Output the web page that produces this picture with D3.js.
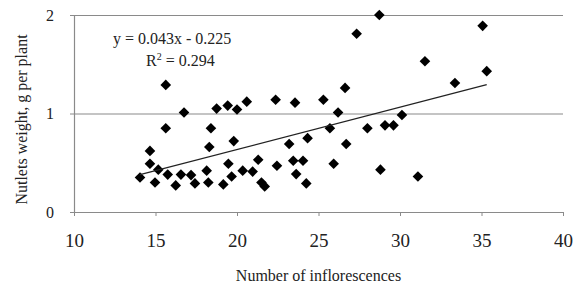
<!DOCTYPE html>
<html>
<head>
<meta charset="utf-8">
<script src="https://cdn.jsdelivr.net/npm/d3@7"></script>
<style>
  body { margin: 0; background: #fff; }
  text { font-family: "Liberation Serif", "Times New Roman", serif; fill: #222; }
</style>
</head>
<body>
<div id="chart"></div>
<script>
// inflorescence count vs nutlets weight
let inflorescences = [14.05, 14.66, 14.66, 14.97, 15.17, 15.63, 15.63, 15.75, 16.24, 16.56,
  16.75, 17.18, 17.42, 18.14, 18.24, 18.3, 18.4, 18.75, 19.16, 19.43,
  19.47, 19.67, 19.8, 20.0, 20.35, 20.6, 20.96, 21.3, 21.5, 21.7,
  22.37, 22.45, 23.2, 23.45, 23.56, 23.63, 24.05, 24.25, 24.33, 25.3,
  25.7, 25.93, 26.2, 26.63, 26.7, 27.34, 28.0, 28.73, 28.8, 29.08,
  29.6, 30.12, 31.1, 31.53, 33.37, 35.07, 35.32];
let nutletsWeight = [0.35, 0.62, 0.49, 0.30, 0.43, 1.29, 0.85, 0.38, 0.27, 0.38,
  1.01, 0.375, 0.29, 0.42, 0.30, 0.66, 0.85, 1.05, 0.28, 1.08,
  0.49, 0.36, 0.72, 1.04, 0.42, 1.12, 0.41, 0.53, 0.30, 0.26,
  1.14, 0.47, 0.69, 0.52, 1.11, 0.385, 0.52, 0.29, 0.75, 1.14,
  0.85, 0.49, 1.01, 1.26, 0.69, 1.81, 0.85, 2.0, 0.43, 0.88,
  0.88, 0.985, 0.36, 1.53, 1.31, 1.89, 1.43];
let xTicks = [10, 15, 20, 25, 30, 35, 40];
let yTicks = [0, 1, 2];
let slope = 0.043, intercept = -0.225, r2 = 0.294;

let W = 576, H = 291;
let margin = {left: 74, right: 13, top: 15, bottom: 79};

let svg = d3.select("#chart").append("svg")
  .attr("width", W).attr("height", H);

let x = d3.scaleLinear().domain([10, 40]).range([margin.left, W - margin.right]);
let y = d3.scaleLinear().domain([0, 2]).range([H - margin.bottom, margin.top]);

// gridlines
svg.append("g")
  .attr("transform", "translate(" + margin.left + ",0)")
  .call(d3.axisLeft(y).tickValues(yTicks.filter(d => d > 0))
    .tickSize(-(W - margin.right - margin.left)).tickFormat(""))
  .call(g => g.select(".domain").remove())
  .call(g => g.selectAll("line").attr("stroke", "#8a8a8a").attr("stroke-width", 1.2));

// y axis
svg.append("g")
  .attr("transform", "translate(" + margin.left + ",0)")
  .call(d3.axisLeft(y).tickValues(yTicks).tickSize(4).tickSizeOuter(0).tickPadding(16).tickFormat(d3.format("d")))
  .call(g => g.select(".domain").attr("stroke", "#8a8a8a").attr("stroke-width", 1.2))
  .call(g => g.selectAll("line").attr("stroke", "#8a8a8a"))
  .call(g => g.selectAll("text").style("font-size", "16px").attr("fill", "#222"));

// x axis
svg.append("g")
  .attr("transform", "translate(0," + (H - margin.bottom) + ")")
  .call(d3.axisBottom(x).tickValues(xTicks).tickSize(4).tickSizeOuter(0).tickPadding(18))
  .call(g => g.select(".domain").attr("stroke", "#8a8a8a").attr("stroke-width", 1.2))
  .call(g => g.selectAll("line").attr("stroke", "#8a8a8a"))
  .call(g => g.selectAll("text").style("font-size", "19px").attr("fill", "#222"));

// axis titles
svg.append("text")
  .attr("x", (margin.left + W - margin.right) / 2).attr("y", 281)
  .attr("text-anchor", "middle").style("font-size", "16px")
  .text("Number of inflorescences");

svg.append("text")
  .attr("transform", "translate(27," + ((margin.top + H - margin.bottom) / 2 + 6) + ") rotate(-90)")
  .attr("text-anchor", "middle").style("font-size", "16px")
  .text("Nutlets weight, g per plant");

// points
let diamond = d3.symbol().type(d3.symbolDiamond2).size(72);
svg.append("g").selectAll("path").data(inflorescences).enter().append("path")
  .attr("d", diamond)
  .attr("transform", (d, i) => "translate(" + x(d) + "," + y(nutletsWeight[i]) + ")")
  .attr("fill", "#000");

// linear trendline across the data range
let ext = d3.extent(inflorescences);
svg.append("path")
  .attr("d", d3.line()(ext.map(v => [x(v), y(slope * v + intercept)])))
  .attr("stroke", "#222").attr("stroke-width", 1.2).attr("fill", "none");

// equation
svg.append("text").attr("x", 113).attr("y", 44).style("font-size", "16px")
  .text("y = " + slope + "x - " + Math.abs(intercept));
let rt = svg.append("text").attr("x", 146).attr("y", 66).style("font-size", "16px");
rt.append("tspan").text("R");
rt.append("tspan").attr("dy", -6).style("font-size", "10px").text("2");
rt.append("tspan").attr("dy", 6).text(" = " + r2);
</script>
</body>
</html>
